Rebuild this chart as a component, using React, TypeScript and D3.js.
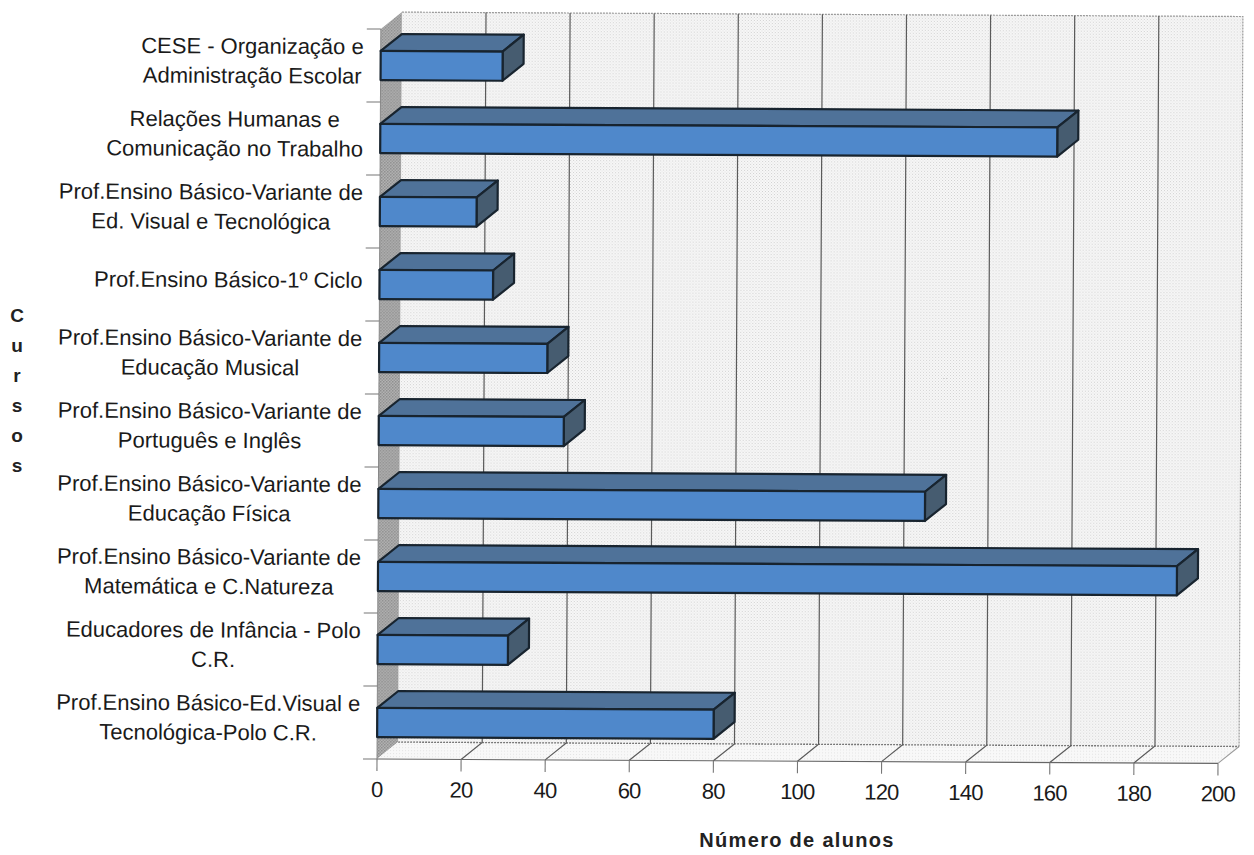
import React from "react";
import * as d3 from "d3";

const categories: string[][] = [
  ["CESE - Organização e", "Administração Escolar"],
  ["Relações Humanas e", "Comunicação no Trabalho"],
  ["Prof.Ensino Básico-Variante de", "Ed. Visual e Tecnológica"],
  ["Prof.Ensino Básico-1º Ciclo"],
  ["Prof.Ensino Básico-Variante de", "Educação Musical"],
  ["Prof.Ensino Básico-Variante de", "Português e Inglês"],
  ["Prof.Ensino Básico-Variante de", "Educação Física"],
  ["Prof.Ensino Básico-Variante de", "Matemática e C.Natureza"],
  ["Educadores de Infância - Polo", "C.R."],
  ["Prof.Ensino Básico-Ed.Visual e", "Tecnológica-Polo C.R."],
];
const alunos = [29, 161, 23, 27, 40, 44, 130, 190, 31, 80];
const xTicks = [0, 20, 40, 60, 80, 100, 120, 140, 160, 180, 200];
const yAxisLetters = ["C", "u", "r", "s", "o", "s"];
const xTitle = "Número de alunos";

const FONT = "'Liberation Sans', Arial, sans-serif";
const LABEL_SIZE = 22;
const X0 = 377, X1 = 1218, Y0 = 759, Y1 = 29, DX = 21, DY = -17;

function textWidth(s: string) {
  const ctx = document.createElement("canvas").getContext("2d")!;
  ctx.font = `${LABEL_SIZE}px 'Liberation Sans'`;
  return ctx.measureText(s).width;
}

const pts = (p: number[][]) => p.map((d) => d.join(",")).join(" ");

export default function App() {
  const x = d3.scaleLinear().domain([0, 200]).range([X0, X1]);
  const ids = categories.map((_, i) => String(i));
  const y = d3.scaleBand().domain(ids).range([Y1, Y0]).paddingInner(0.6).paddingOuter(0.3);
  const step = y.step();
  const bw = y.bandwidth();
  const edge = "#18242f";

  return (
    <svg width={1254} height={855} style={{ position: "absolute", left: 0, top: 0, background: "#fff" }} fontFamily={FONT}>
      <defs>
        <pattern id="wall" width={3} height={3} patternUnits="userSpaceOnUse">
          <rect width={3} height={3} fill="#f8f8f8" />
          <rect width={1} height={1} fill="#d0d0d0" />
          <rect x={1.5} y={1.5} width={1} height={1} fill="#dadada" />
        </pattern>
        <pattern id="side" width={3} height={3} patternUnits="userSpaceOnUse">
          <rect width={3} height={3} fill="#b4b4b4" />
          <rect width={1.5} height={1.5} fill="#8c8c8c" />
          <rect x={1.5} y={1.5} width={1.5} height={1.5} fill="#959595" />
        </pattern>
        <pattern id="floor" width={3} height={3} patternUnits="userSpaceOnUse">
          <rect width={3} height={3} fill="#f8f8f8" />
          <rect width={1} height={1} fill="#e4e4e4" />
        </pattern>
      </defs>
      <g transform={`rotate(0.3 ${X0} ${Y0})`}>
        <polygon points={pts([[X0 + DX, Y1 + DY], [X1 + DX, Y1 + DY], [X1 + DX, Y0 + DY], [X0 + DX, Y0 + DY]])} fill="url(#wall)" />
        <polygon points={pts([[X0, Y1], [X0 + DX, Y1 + DY], [X0 + DX, Y0 + DY], [X0, Y0]])} fill="url(#side)" />
        <polygon points={pts([[X0, Y0], [X0 + DX, Y0 + DY], [X1 + DX, Y0 + DY], [X1, Y0]])} fill="url(#floor)" />
        <path d={`M${X0 + DX},${Y1 + DY}H${X1 + DX}V${Y0 + DY}`} fill="none" stroke="#9a9a9a" strokeWidth={1.2} strokeDasharray="2 1" />
        <line x1={X0 + DX} x2={X1 + DX} y1={Y0 + DY} y2={Y0 + DY} stroke="#777" strokeWidth={1.3} strokeDasharray="2 1" />

        {xTicks.slice(1, -1).map((t) => (
          <polyline key={t} points={pts([[x(t), Y0], [x(t) + DX, Y0 + DY], [x(t) + DX, Y1 + DY]])} fill="none" stroke="#5a5a5a" strokeWidth={1.2} />
        ))}
        <line x1={X1} y1={Y0} x2={X1 + DX} y2={Y0 + DY} stroke="#999" strokeWidth={1} />

        <line x1={X0} x2={X1} y1={Y0} y2={Y0} stroke="#666" strokeWidth={1.1} />
        <line x1={X0} x2={X0} y1={Y1} y2={Y0} stroke="#888" strokeWidth={1} />
        {xTicks.map((t) => (
          <g key={t}>
            <line x1={x(t)} x2={x(t)} y1={Y0} y2={Y0 + 12} stroke="#777" strokeWidth={1.1} />
            <text x={x(t)} y={797} textAnchor="middle" fontSize={LABEL_SIZE} fill="#1a1a1a" style={{ letterSpacing: "-0.8px" }}>{t}</text>
          </g>
        ))}
        {ids.concat("end").map((id, i) => {
          const ty = Y1 + i * step;
          return <line key={id} x1={X0 - 14} x2={X0} y1={ty} y2={ty} stroke="#777" strokeWidth={1.1} />;
        })}

        {alunos.map((v, i) => {
          const t = y(String(i))!;
          const xa = x(0), xb = x(v);
          return (
            <g key={i} stroke={edge} strokeWidth={2.2} strokeLinejoin="round">
              <polygon points={pts([[xa, t], [xa + DX, t + DY], [xb + DX, t + DY], [xb, t]])} fill="#4f7299" />
              <polygon points={pts([[xb, t], [xb + DX, t + DY], [xb + DX, t + bw + DY], [xb, t + bw]])} fill="#465c70" />
              <rect x={xa} y={t} width={xb - xa} height={bw} fill="#4f88cb" />
            </g>
          );
        })}

        {categories.map((lines, i) => {
          const c = y(String(i))! + bw / 2;
          const w = Math.max(...lines.map(textWidth));
          const cx = 360 - w / 2;
          return lines.map((l, k) => (
            <text key={k} x={cx} y={c + (k - (lines.length - 1) / 2) * 29.5 + 3.5} textAnchor="middle" fontSize={LABEL_SIZE} fill="#1a1a1a">
              {l}
            </text>
          ));
        })}
      </g>

      {yAxisLetters.map((l, i) => (
        <text key={i} x={17} y={322 + i * 30} textAnchor="middle" fontSize={19} fontWeight="bold" fill="#222">{l}</text>
      ))}
      <text x={797} y={847} textAnchor="middle" fontSize={20} fontWeight="bold" fill="#222" style={{ letterSpacing: "1.3px" }}>{xTitle}</text>
    </svg>
  );
}
